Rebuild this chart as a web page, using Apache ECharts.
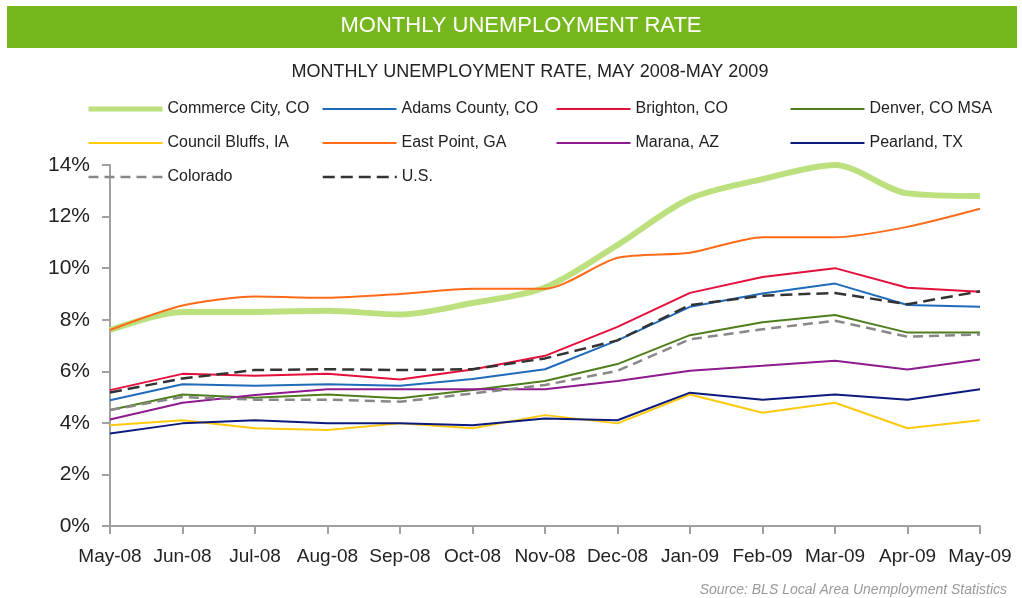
<!DOCTYPE html>
<html>
<head>
<meta charset="utf-8">
<title>Monthly Unemployment Rate</title>
<script src="https://cdn.jsdelivr.net/npm/echarts@6/dist/echarts.min.js"></script>
<style>
  html, body { margin: 0; padding: 0; background: #fff; }
  #chart { width: 1022px; height: 598px; }
</style>
</head>
<body>
<div id="chart"></div>
<script>
// months on the x axis
const months = ['May-08', 'Jun-08', 'Jul-08', 'Aug-08', 'Sep-08', 'Oct-08', 'Nov-08',
  'Dec-08', 'Jan-09', 'Feb-09', 'Mar-09', 'Apr-09', 'May-09']

// unemployment rate, percent
const commerceCity  = [7.6, 8.3, 8.3, 8.35, 8.2, 8.65, 9.25, 10.9, 12.7, 13.45, 14.0, 12.9, 12.8]
const adamsCounty   = [4.88, 5.5, 5.44, 5.5, 5.44, 5.7, 6.08, 7.2, 8.5, 9.02, 9.4, 8.57, 8.5]
const brighton      = [5.27, 5.9, 5.83, 5.9, 5.68, 6.07, 6.6, 7.72, 9.04, 9.66, 10.0, 9.24, 9.08]
const denver        = [4.5, 5.1, 4.97, 5.1, 4.95, 5.27, 5.62, 6.28, 7.4, 7.9, 8.18, 7.5, 7.5]
const councilBluffs = [3.91, 4.1, 3.79, 3.72, 3.98, 3.79, 4.3, 3.98, 5.1, 4.39, 4.78, 3.79, 4.1]
const eastPoint     = [7.6, 8.55, 8.9, 8.85, 9.0, 9.2, 9.2, 10.4, 10.6, 11.2, 11.2, 11.6, 12.3]
const marana        = [4.13, 4.78, 5.08, 5.3, 5.3, 5.3, 5.3, 5.62, 6.02, 6.21, 6.41, 6.07, 6.46]
const pearland      = [3.59, 3.98, 4.1, 3.98, 3.98, 3.91, 4.17, 4.1, 5.17, 4.9, 5.1, 4.9, 5.3]
const colorado      = [4.5, 5.0, 4.9, 4.9, 4.82, 5.14, 5.47, 6.02, 7.24, 7.63, 7.96, 7.34, 7.43]
const us            = [5.18, 5.72, 6.05, 6.08, 6.05, 6.08, 6.5, 7.2, 8.57, 8.93, 9.04, 8.6, 9.1]

const yTicks = [0, 2, 4, 6, 8, 10, 12, 14]

const font = 'Liberation Sans, Arial, sans-serif'

const chart = echarts.init(document.getElementById('chart'))

function line (name, data, color, width, extra) {
  return Object.assign({
    name: name,
    type: 'line',
    data: data,
    symbol: 'none',
    showSymbol: false,
    lineStyle: { color: color, width: width },
    itemStyle: { color: color },
    emphasis: { disabled: true }
  }, extra || {})
}

const option = {
  animation: false,
  textStyle: { fontFamily: font },
  graphic: [
    {
      type: 'rect',
      shape: { x: 7, y: 6, width: 1010, height: 42 },
      style: { fill: '#77B71E' }
    },
    {
      type: 'text',
      x: 521, y: 26,
      style: {
        text: 'MONTHLY UNEMPLOYMENT RATE',
        fill: '#fff',
        font: '22px ' + font,
        align: 'center',
        verticalAlign: 'middle'
      }
    },
    {
      type: 'text',
      x: 530, y: 72,
      style: {
        text: 'MONTHLY UNEMPLOYMENT RATE, MAY 2008-MAY 2009',
        fill: '#222',
        font: '18px ' + font,
        align: 'center',
        verticalAlign: 'middle'
      }
    },
    {
      type: 'text',
      x: 1007, y: 590,
      style: {
        text: 'Source: BLS Local Area Unemployment Statistics',
        fill: '#9a9a9a',
        font: 'italic 14px ' + font,
        align: 'right',
        verticalAlign: 'middle'
      }
    }
  ],
  legend: {
    left: 81,
    top: 89,
    width: 940,
    itemWidth: 74,
    itemHeight: 14,
    itemGap: 4,
    selectedMode: false,
    itemStyle: { opacity: 0 },
    textStyle: {
      fontFamily: font,
      fontSize: 16,
      color: '#222',
      width: 150,
      lineHeight: 30,
      height: 30
    },
    data: [
      { name: 'Commerce City, CO', lineStyle: { width: 5 } },
      { name: 'Adams County, CO' },
      { name: 'Brighton, CO' },
      { name: 'Denver, CO MSA' },
      { name: 'Council Bluffs, IA' },
      { name: 'East Point, GA' },
      { name: 'Marana, AZ' },
      { name: 'Pearland, TX' },
      { name: 'Colorado', lineStyle: { width: 2.5 } },
      { name: 'U.S.', lineStyle: { width: 2.5 } }
    ]
  },
  grid: { left: 110, right: 42, top: 165, bottom: 72 },
  xAxis: {
    type: 'category',
    data: months,
    boundaryGap: false,
    axisLine: { lineStyle: { color: '#a0a0a0', width: 2 } },
    axisTick: { show: true, length: 8, interval: 0, lineStyle: { color: '#a0a0a0', width: 2 } },
    axisLabel: { color: '#222', fontSize: 19, margin: 21, interval: 0, fontFamily: font },
    splitLine: { show: false }
  },
  yAxis: {
    type: 'value',
    min: yTicks[0],
    max: yTicks[yTicks.length - 1],
    interval: 2,
    axisLine: { show: true, lineStyle: { color: '#a0a0a0', width: 2 } },
    axisTick: { show: true, length: 8, lineStyle: { color: '#a0a0a0', width: 2 } },
    axisLabel: { color: '#222', fontSize: 21, margin: 20, fontFamily: font, formatter: '{value}%' },
    splitLine: { show: false }
  },
  series: [
    line('Commerce City, CO', commerceCity, '#BCE07D', 6, { smooth: 0.3 }),
    line('Adams County, CO', adamsCounty, '#1F6BBA', 2),
    line('Brighton, CO', brighton, '#E4103C', 2),
    line('Denver, CO MSA', denver, '#4F7E1C', 2),
    line('Council Bluffs, IA', councilBluffs, '#FFC90E', 2),
    line('East Point, GA', eastPoint, '#FF6B18', 2, { smooth: 0.25 }),
    line('Marana, AZ', marana, '#8E1B8E', 2),
    line('Pearland, TX', pearland, '#0D1A7E', 2),
    line('Colorado', colorado, '#888888', 2.5, { lineStyle: { color: '#888888', width: 2.5, type: [10, 6] } }),
    line('U.S.', us, '#333333', 2.5, { lineStyle: { color: '#333333', width: 2.5, type: [12, 6] } })
  ]
}

chart.setOption(option)
window.addEventListener('resize', () => chart.resize())
</script>
</body>
</html>
